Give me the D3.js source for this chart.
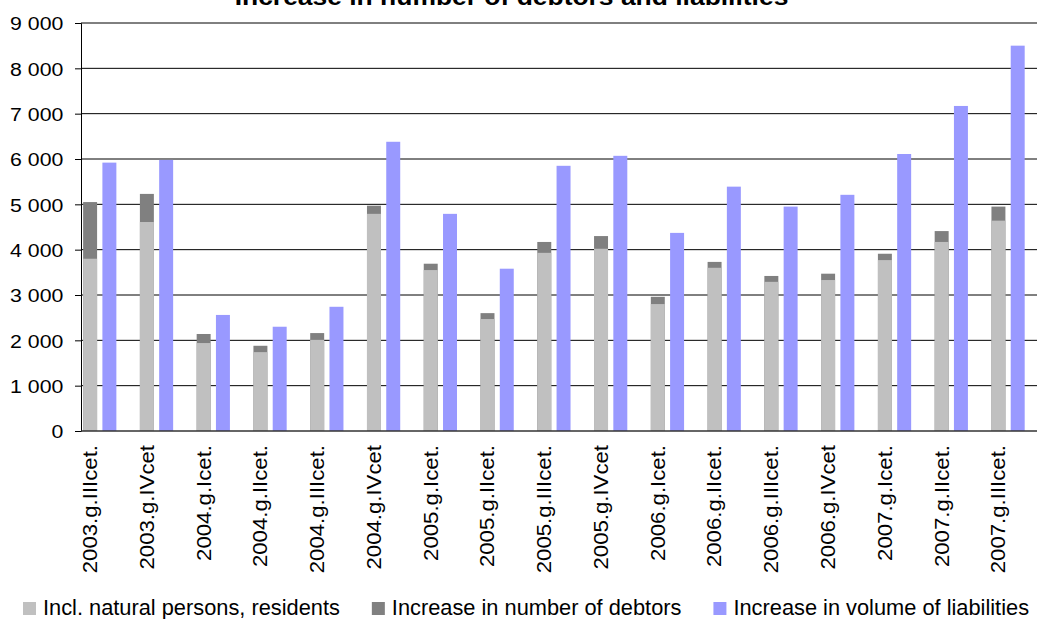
<!DOCTYPE html>
<html>
<head>
<meta charset="utf-8">
<script src="https://cdn.jsdelivr.net/npm/d3@7"></script>
<style>
  html, body { margin: 0; padding: 0; background: #fff; }
  svg { display: block; font-family: "Liberation Sans", Arial, sans-serif; }
</style>
</head>
<body>
<div id="chart"></div>
<script>
// quarters on the x axis
const categories = [
    "2003.g.IIIcet.", "2003.g.IVcet", "2004.g.Icet.", "2004.g.IIcet.", "2004.g.IIIcet.",
    "2004.g.IVcet", "2005.g.Icet.", "2005.g.IIcet.", "2005.g.IIIcet.", "2005.g.IVcet",
    "2006.g.Icet.", "2006.g.IIcet.", "2006.g.IIIcet.", "2006.g.IVcet", "2007.g.Icet.",
    "2007.g.IIcet.", "2007.g.IIIcet."
];

// values
const naturalPersons = [3800, 4610, 1940, 1740, 2010, 4790, 3550, 2470, 3930, 4020, 2800, 3600, 3290, 3330, 3770, 4170, 4640];
const debtors = [5050, 5230, 2140, 1880, 2160, 4970, 3690, 2600, 4170, 4300, 2960, 3730, 3420, 3470, 3910, 4410, 4950];
const liabilities = [5920, 5980, 2560, 2300, 2740, 6380, 4790, 3580, 5850, 6070, 4370, 5390, 4950, 5210, 6110, 7170, 8500];

const yTicks = [0, 1000, 2000, 3000, 4000, 5000, 6000, 7000, 8000, 9000];
const seriesNames = ["Incl. natural persons, residents", "Increase in number of debtors", "Increase in volume of liabilities"];
const seriesColors = ["#c0c0c0", "#808080", "#9999ff"];
const title = "Increase in number of debtors and liabilities";

const W = 1037, H = 619;
const plot = { left: 81, top: 23, bottom: 431, right: 1037 };
const stretch = 1.15; // the original text is drawn a bit wide

const svg = d3.select("#chart").append("svg")
    .attr("width", W)
    .attr("height", H);

const y = d3.scaleLinear()
    .domain([0, 9000])
    .range([plot.bottom, plot.top]);

const bandStep = 56.77;
const x = d3.scaleBand()
    .domain(categories)
    .range([plot.left, plot.left + categories.length * bandStep])
    .padding(0);

// three slots per category: stacked debtors, liabilities, empty
const slot = d3.scaleBand()
    .domain(["debtors", "liabilities", "blank"])
    .range([0, x.bandwidth()])
    .paddingInner(0.275)
    .paddingOuter(0.11);

const fmt = d3.formatLocale({ decimal: ",", thousands: " ", grouping: [3], currency: ["", ""] }).format(",d");

// gridlines
svg.append("g")
    .selectAll("line")
    .data(yTicks.filter(d => d > 0))
    .join("line")
    .attr("x1", plot.left)
    .attr("x2", plot.right)
    .attr("y1", d => y(d))
    .attr("y2", d => y(d))
    .attr("stroke", "#000")
    .attr("stroke-width", 1);

// bars
const groups = svg.append("g")
    .selectAll("g")
    .data(categories)
    .join("g")
    .attr("transform", d => `translate(${x(d)},0)`);

groups.append("rect")
    .attr("x", slot("debtors"))
    .attr("width", slot.bandwidth())
    .attr("y", (d, i) => y(debtors[i]))
    .attr("height", (d, i) => y(0) - y(debtors[i]))
    .attr("fill", seriesColors[1]);

groups.append("rect")
    .attr("x", slot("debtors"))
    .attr("width", slot.bandwidth())
    .attr("y", (d, i) => y(naturalPersons[i]))
    .attr("height", (d, i) => y(0) - y(naturalPersons[i]))
    .attr("fill", seriesColors[0]);

groups.append("rect")
    .attr("x", slot("liabilities"))
    .attr("width", slot.bandwidth())
    .attr("y", (d, i) => y(liabilities[i]))
    .attr("height", (d, i) => y(0) - y(liabilities[i]))
    .attr("fill", seriesColors[2]);

// y axis
const yAxis = svg.append("g")
    .attr("transform", `translate(${plot.left},0)`)
    .call(d3.axisLeft(y).tickValues(yTicks).tickFormat(fmt).tickSize(6).tickPadding(0));

yAxis.select(".domain").attr("stroke", "#000");
yAxis.selectAll(".tick line").attr("stroke", "#000");
yAxis.selectAll(".tick text")
    .attr("x", null)
    .attr("dy", "0.36em")
    .attr("transform", `translate(-17.7,0) scale(${stretch},1)`)
    .attr("fill", "#000")
    .style("font-size", "18.5px")
    .style("font-family", "'Liberation Sans', Arial, sans-serif");

// x axis
const xAxis = svg.append("g")
    .attr("transform", `translate(0,${y(0)})`)
    .call(d3.axisBottom(x).tickSize(0).tickPadding(0));

xAxis.select(".domain")
    .attr("d", `M${plot.left},0H${plot.right}`)
    .attr("stroke", "#333")
    .attr("stroke-width", 1.6);

xAxis.selectAll(".tick text")
    .attr("y", null)
    .attr("dy", null)
    .attr("text-anchor", "end")
    .attr("transform", `translate(${16 - x.bandwidth() / 2},14) rotate(-90) scale(${stretch},1)`)
    .attr("fill", "#000")
    .style("font-size", "19.3px")
    .style("font-family", "'Liberation Sans', Arial, sans-serif");

// title, mostly cut off at the top
svg.append("text")
    .attr("transform", `translate(511.5,5) scale(${stretch},1)`)
    .attr("text-anchor", "middle")
    .style("font-size", "23px")
    .style("font-weight", "bold")
    .text(title);

// legend
const legend = svg.append("g").attr("transform", "translate(0,602)");
let lx = 23;
seriesNames.forEach((name, i) => {
    const item = legend.append("g").attr("transform", `translate(${lx},0)`);
    item.append("rect")
        .attr("width", 13)
        .attr("height", 13)
        .attr("fill", seriesColors[i]);
    const t = item.append("text")
        .attr("x", 20)
        .attr("y", 13)
        .style("font-size", "21.8px")
        .text(name);
    lx += 20 + t.node().getComputedTextLength() + 32;
});
</script>
</body>
</html>
